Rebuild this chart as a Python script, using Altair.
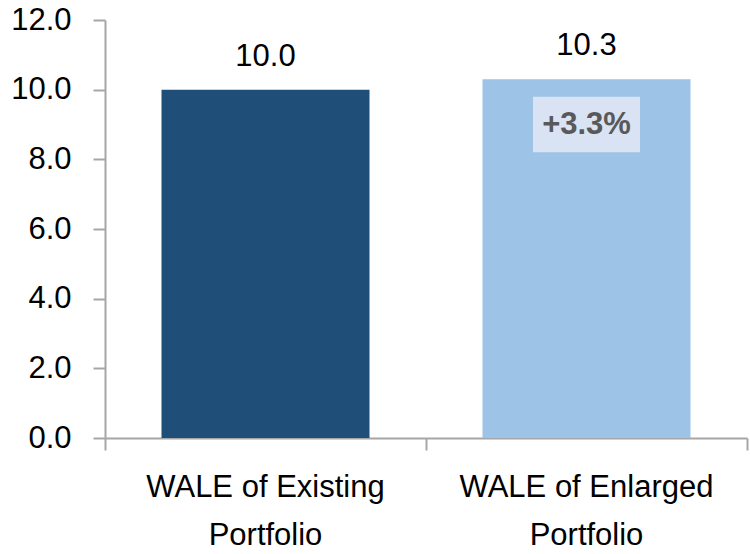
import altair as alt
import pandas as pd

# Weighted average lease expiry (years) before and after the acquisition
categories = ["WALE of Existing Portfolio", "WALE of Enlarged Portfolio"]
label_lines = [["WALE of Existing", "Portfolio"], ["WALE of Enlarged", "Portfolio"]]
wale_years = [10.0, 10.3]
bar_colors = ["#1F4E79", "#9DC3E6"]

# Uplift callout shown inside the enlarged-portfolio bar
change_text = "+3.3%"
change_category = categories[1]
callout_center = 9.0
callout_half_height = 0.8

FONT = "Liberation Sans"
AXIS_GREY = "#A6A6A6"
BAR_WIDTH = 208

df = pd.DataFrame({"category": categories, "wale": wale_years, "color": bar_colors})
callout = pd.DataFrame({
    "category": [change_category],
    "text": [change_text],
    "mid": [callout_center],
    "lo": [callout_center - callout_half_height],
    "hi": [callout_center + callout_half_height],
})

label_expr = (
    "datum.value == '" + categories[0] + "' ? " + str(label_lines[0]).replace('"', "'")
    + " : " + str(label_lines[1]).replace('"', "'")
)

x_scale = alt.Scale(domain=categories, paddingInner=0, paddingOuter=0)
y_scale = alt.Scale(domain=[0, 12], nice=False)

# Axis carrying the domain line and the interval ticks between categories
x_tick_axis = alt.Axis(
    orient="bottom",
    title=None,
    labels=False,
    tickBand="extent",
    tickSize=12,
    tickColor=AXIS_GREY,
    tickWidth=2,
    domainColor=AXIS_GREY,
    domainWidth=2,
    grid=False,
)

# Axis carrying only the two-line category labels
x_label_axis = alt.Axis(
    orient="bottom",
    title=None,
    labelAngle=0,
    labelExpr=label_expr,
    labelFont=FONT,
    labelFontSize=31,
    labelColor="#000000",
    labelLineHeight=48,
    labelLimit=600,
    labelPadding=34,
    ticks=False,
    domain=False,
    grid=False,
)

bars = alt.Chart(df).mark_bar(size=BAR_WIDTH).encode(
    x=alt.X("category:N", scale=x_scale, axis=x_tick_axis),
    y=alt.Y(
        "wale:Q",
        scale=y_scale,
        axis=alt.Axis(
            orient="left",
            title=None,
            values=[0, 2, 4, 6, 8, 10, 12],
            format=".1f",
            labelFont=FONT,
            labelFontSize=31,
            labelColor="#000000",
            labelPadding=22,
            tickSize=12,
            tickColor=AXIS_GREY,
            tickWidth=2,
            domainColor=AXIS_GREY,
            domainWidth=2,
            grid=False,
        ),
    ),
    color=alt.Color("color:N", scale=None),
)

value_labels = alt.Chart(df).mark_text(
    font=FONT, fontSize=31, color="#000000", baseline="alphabetic", dy=-24
).encode(
    x=alt.X("category:N", scale=x_scale, axis=x_label_axis),
    y=alt.Y("wale:Q", scale=y_scale, axis=None),
    text=alt.Text("wale:Q", format=".1f"),
)

callout_box = alt.Chart(callout).mark_bar(size=107, color="#DAE3F3").encode(
    x=alt.X("category:N", scale=x_scale, axis=None),
    y=alt.Y("lo:Q", scale=y_scale, axis=None),
    y2="hi:Q",
)

callout_text = alt.Chart(callout).mark_text(
    font=FONT, fontSize=31, fontWeight="bold", color="#595959", baseline="middle"
).encode(
    x=alt.X("category:N", scale=x_scale, axis=None),
    y=alt.Y("mid:Q", scale=y_scale, axis=None),
    text="text:N",
)

chart = (
    alt.layer(bars, value_labels, callout_box, callout_text)
    .resolve_axis(x="independent", y="independent")
    .properties(
        width=642,
        height=418,
        padding={"left": 105, "top": 20, "right": 3, "bottom": 116},
        autosize=alt.AutoSizeParams(type="none"),
        background="#FFFFFF",
    )
    .configure_view(stroke=None)
)

chart.save("out.html", embed_options={"renderer": "svg", "actions": False})
